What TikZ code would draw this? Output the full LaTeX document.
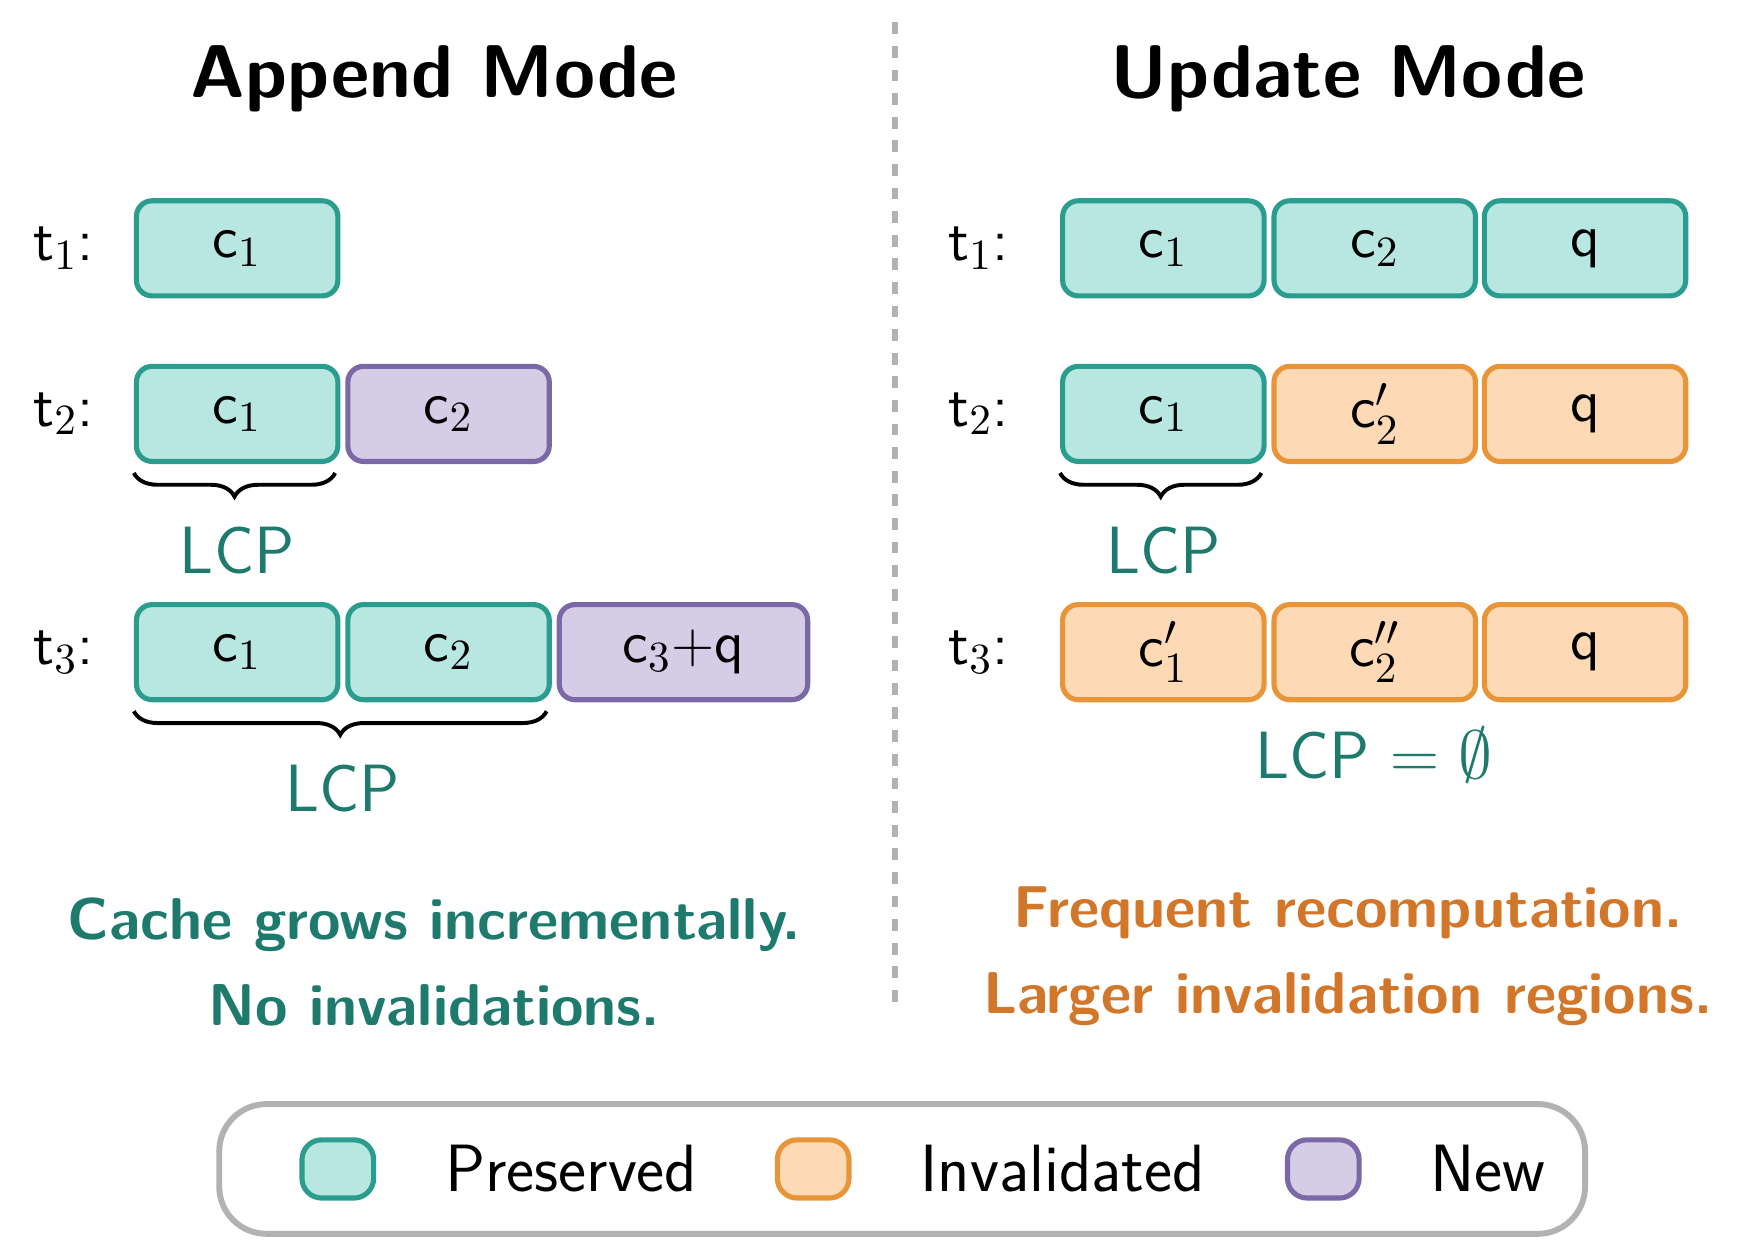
\documentclass[tikz,border=0pt]{standalone}
\usepackage{amsmath, amssymb}
\usepackage{tikz}
\usetikzlibrary{positioning, decorations.pathreplacing}
\definecolor{keepfill}{HTML}{B8E6E0}
\definecolor{keepline}{HTML}{2A9D8F}
\definecolor{invfill}{HTML}{FDD9B5}
\definecolor{invline}{HTML}{E8953A}
\definecolor{newfill}{HTML}{D5CCE6}
\definecolor{newline}{HTML}{7B68A6}
\definecolor{tealtext}{HTML}{1F7A6E}
\definecolor{orangetext}{HTML}{D2762A}
\tikzset{
  blk/.style={draw, line width=1.3pt, rounded corners=4pt, minimum height=0.85cm,
    minimum width=1.8cm, inner sep=0pt, font=\sffamily\fontsize{15}{18}\selectfont},
  keep/.style={blk, fill=keepfill, draw=keepline},
  inv/.style={blk, fill=invfill, draw=invline},
  new/.style={blk, fill=newfill, draw=newline},
  tlab/.style={font=\sffamily\fontsize{15}{18}\selectfont},
  lcp/.style={font=\sffamily\fontsize{17}{20}\selectfont, text=tealtext},
  title/.style={font=\sffamily\bfseries\fontsize{19}{23}\selectfont},
  note/.style={font=\sffamily\bfseries\fontsize{15}{18}\selectfont, align=center},
  brc/.style={decorate, decoration={brace, mirror, amplitude=6pt}, line width=1pt}
}
\begin{document}
\begin{tikzpicture}[x=0.01cm, y=-0.01cm]
\useasboundingbox (0,0) rectangle (1560,1120);

% titles and divider
\node[title] (ta) at (388,70) {Append Mode};
\node[title] (tu) at (1205,70) {Update Mode};
\coordinate (dtop) at (800,20);
\coordinate (dbot) at (800,900);
\draw[gray!60, line width=1.5pt, dashed] (dtop) -- (dbot);

% append mode
\node[tlab] (a1) at (57,222) {t$_1$:};
\node[keep] (a1c1) at (212,222) {c$_1$};
\node[tlab] (a2) at (57,370) {t$_2$:};
\node[keep] (a2c1) at (212,370) {c$_1$};
\node[new] (a2c2) at (401,370) {c$_2$};
\node[tlab] (a3) at (57,583) {t$_3$:};
\node[keep] (a3c1) at (212,583) {c$_1$};
\node[keep] (a3c2) at (401,583) {c$_2$};
\node[new, minimum width=2.22cm] (a3c3) at (611,583) {c$_3+$q};
\draw[brc] (a2c1.south west) ++(0,8) -- ++(180,0);
\node[lcp] (al2) at (212,492) {LCP};
\draw[brc] (a3c1.south west) ++(0,8) -- ++(369,0);
\node[lcp] (al3) at (306,705) {LCP};
\node[note, text=tealtext] (an) at (388,860) {Cache grows incrementally.\\[4pt]No invalidations.};

% update mode
\node[tlab] (u1) at (875,222) {t$_1$:};
\node[keep] (u1c1) at (1040,222) {c$_1$};
\node[keep] (u1c2) at (1229,222) {c$_2$};
\node[keep] (u1q) at (1417,222) {q};
\node[tlab] (u2) at (875,370) {t$_2$:};
\node[keep] (u2c1) at (1040,370) {c$_1$};
\node[inv] (u2c2) at (1229,370) {c$_2'$};
\node[inv] (u2q) at (1417,370) {q};
\node[tlab] (u3) at (875,583) {t$_3$:};
\node[inv] (u3c1) at (1040,583) {c$_1'$};
\node[inv] (u3c2) at (1229,583) {c$_2''$};
\node[inv] (u3q) at (1417,583) {q};
\draw[brc] (u2c1.south west) ++(0,8) -- ++(180,0);
\node[lcp] (ul2) at (1040,492) {LCP};
\node[lcp] (ul3) at (1228,675) {LCP $=\emptyset$};
\node[note, text=orangetext] (un) at (1205,855) {Frequent recomputation.\\[4pt]Larger invalidation regions.};

% legend
\draw[gray!60, line width=1.5pt, rounded corners=12pt] (196,987) rectangle (1417,1103);
\node[keep, minimum width=0.64cm, minimum height=0.52cm, rounded corners=5pt] (lk) at (302,1045) {};
\node[tlab, right=14pt of lk, font=\sffamily\fontsize{17}{20}\selectfont] (lkt) {Preserved};
\node[inv, minimum width=0.64cm, minimum height=0.52cm, rounded corners=5pt] (li) at (727,1045) {};
\node[tlab, right=14pt of li, font=\sffamily\fontsize{17}{20}\selectfont] (lit) {Invalidated};
\node[new, minimum width=0.64cm, minimum height=0.52cm, rounded corners=5pt] (ln) at (1183,1045) {};
\node[tlab, right=14pt of ln, font=\sffamily\fontsize{17}{20}\selectfont] (lnt) {New};
\end{tikzpicture}
\end{document}
